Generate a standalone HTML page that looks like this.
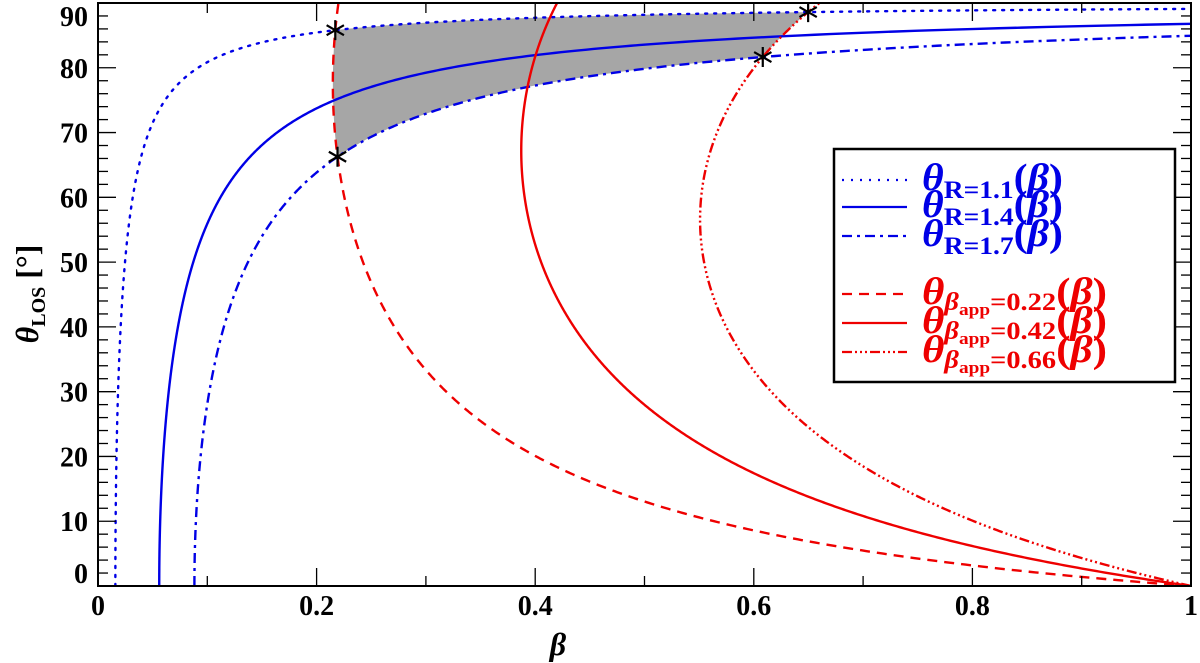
<!DOCTYPE html>
<html><head><meta charset="utf-8">
<style>
html,body{margin:0;padding:0;background:#fff;}
svg{display:block;}
text{font-family:"Liberation Serif",serif;font-weight:bold;}
</style></head>
<body>
<svg id="chart" xmlns="http://www.w3.org/2000/svg" width="1200" height="663" viewBox="0 0 1200 663">
  <defs>
    <clipPath id="plotClip"><rect x="98" y="3" width="1093" height="583"/></clipPath>
    <mask id="regionMask" maskUnits="userSpaceOnUse" x="0" y="0" width="1200" height="663">
      <path id="maskIn" fill="#fff"/>
      <path id="maskOut" fill="#000"/>
    </mask>
  </defs>
  <g id="plot" clip-path="url(#plotClip)"></g>
  <g id="axes"></g>
  <text x="558" y="655" font-size="32" font-style="italic" text-anchor="middle">β</text>
  <text transform="translate(38,294) rotate(-90)" font-size="32" text-anchor="middle"><tspan font-style="italic">θ</tspan><tspan font-size="20" dy="7">LOS</tspan><tspan dy="-7"> [°]</tspan></text>
  <g id="legend"></g>
</svg>
<script>
// ---- data ----
const ratioValues = [1.1, 1.4, 1.7];          // jet/counter-jet ratio R
const ratioDash = ["2,7", "", "10,5,3,5"];
const betaAppValues = [0.22, 0.42, 0.66];     // apparent speeds
const betaAppDash = ["10,7", "", "10,3,2,3,2,3,2,3"];
const xTicks = [0, 0.2, 0.4, 0.6, 0.8, 1];
const xTickLabels = ["0", "0.2", "0.4", "0.6", "0.8", "1"];
const yTicks = [0, 10, 20, 30, 40, 50, 60, 70, 80, 90];
const yTickLabels = ["0", "10", "20", "30", "40", "50", "60", "70", "80", "90"];
const regionRatio = [1.1, 1.7];
const regionBetaApp = [0.22, 0.66];
const spectralExp = 3;

const NS = "http://www.w3.org/2000/svg";
const X0 = 98, X1 = 1191, Y0 = 586, Y1 = 3;
const xs = b => X0 + b * (X1 - X0);
const ys = t => Y0 - t / 90 * (Y0 - Y1);
const rad = Math.PI / 180;
const cR = R => { const q = Math.pow(R, 1 / spectralExp); return (q - 1) / (q + 1); };

function ratioPts(R) {
  const c = cR(R), pts = [];
  for (let t = 0; t < 90; t += 0.1) {
    const b = c / Math.cos(t * rad);
    if (b > 1) { pts.push([1, Math.acos(c) / rad]); break; }
    pts.push([b, t]);
  }
  return pts;
}
function appPts(ba) {
  const pts = [];
  for (let t = 0; t <= 92; t += 0.1) {
    pts.push([ba / (Math.sin(t * rad) + ba * Math.cos(t * rad)), t]);
  }
  return pts;
}
const toD = pts => pts.map((p, i) => (i ? "L" : "M") + xs(p[0]).toFixed(2) + "," + ys(p[1]).toFixed(2)).join("");
function mk(tag, attrs, parent) {
  const e = document.createElementNS(NS, tag);
  for (const k in attrs) e.setAttribute(k, attrs[k]);
  parent.appendChild(e);
  return e;
}
const plot = document.getElementById("plot");
const axes = document.getElementById("axes");
const legend = document.getElementById("legend");

// shaded region
const inPts = appPts(regionBetaApp[0]);
document.getElementById("maskIn").setAttribute("d", toD(inPts) + "L" + xs(1.2) + "," + ys(95) + "L" + xs(1.2) + "," + ys(0) + "Z");
const outPts = appPts(regionBetaApp[1]);
document.getElementById("maskOut").setAttribute("d", toD(outPts) + "L" + xs(1.2) + "," + ys(95) + "L" + xs(1.2) + "," + ys(0) + "Z");
const rA = ratioPts(regionRatio[0]), rB = ratioPts(regionRatio[1]).slice().reverse();
const region = mk("path", { d: toD(rA.concat(rB)) + "Z", fill: "#a6a6a6", mask: "url(#regionMask)" }, plot);



// blue curves
ratioValues.forEach((R, i) => {
  const p = mk("path", { d: toD(ratioPts(R)), fill: "none", stroke: "#0000e6", "stroke-width": 2.4, "stroke-dasharray": ratioDash[i] || "none", "stroke-linecap": i === 0 ? "round" : "butt" }, plot);
  
  
});
// red curves
betaAppValues.forEach((ba, i) => {
  const p = mk("path", { d: toD(appPts(ba)), fill: "none", stroke: "#ee0000", "stroke-width": 2.4, "stroke-dasharray": betaAppDash[i] || "none" }, plot);
  
  
});
// intersection stars
regionRatio.forEach(R => regionBetaApp.forEach(ba => {
  const c = cR(R);
  const b = Math.sqrt(ba * ba * (1 - c) * (1 - c) + c * c);
  const t = Math.acos(Math.min(1, c / b)) / rad;
  const cx = xs(b), cy = ys(t), r = 10;
  let d = "";
  for (let k = 0; k < 3; k++) {
    const a = (90 + k * 60) * rad;
    d += "M" + (cx - r * Math.cos(a)) + "," + (cy - r * Math.sin(a)) + "L" + (cx + r * Math.cos(a)) + "," + (cy + r * Math.sin(a));
  }
  const s = mk("path", { d: d, stroke: "#000", "stroke-width": 2.2, fill: "none" }, axes);
  
  
}));

// frame
const frame = mk("rect", { x: X0, y: Y1, width: X1 - X0, height: Y0 - Y1, fill: "none", stroke: "#000", "stroke-width": 2 }, axes);


// x ticks
for (let v = 0; v <= 1.0001; v += 0.1) {
  const major = Math.abs(v * 5 - Math.round(v * 5)) < 1e-6;
  const L = major ? 18 : 10;
  mk("line", { x1: xs(v), x2: xs(v), y1: Y0, y2: Y0 - L, stroke: "#000", "stroke-width": 1.3 }, axes);
  mk("line", { x1: xs(v), x2: xs(v), y1: Y1, y2: Y1 + L, stroke: "#000", "stroke-width": 1.3 }, axes);
}
xTicks.forEach((v, i) => {
  const t = mk("text", { x: xs(v), y: 615, "font-size": 28, "text-anchor": "middle" }, axes);
  t.textContent = xTickLabels[i];
  
  
});
// y ticks
for (let v = 0; v <= 90; v += 2) {
  const L = v % 10 === 0 ? 18 : 10;
  mk("line", { x1: X0, x2: X0 + L, y1: ys(v), y2: ys(v), stroke: "#000", "stroke-width": 1.3 }, axes);
  mk("line", { x1: X1, x2: X1 - L, y1: ys(v), y2: ys(v), stroke: "#000", "stroke-width": 1.3 }, axes);
}
yTicks.forEach((v, i) => {
  let y = ys(v);
  y = Math.max(16, Math.min(573, y));
  const t = mk("text", { x: 88, y: y + 10, "font-size": 28, "text-anchor": "end" }, axes);
  t.textContent = yTickLabels[i];
  
  
});

// legend
const box = mk("rect", { x: 834, y: 149, width: 341, height: 233, fill: "#fff", stroke: "#000", "stroke-width": 2.5 }, legend);


const legY = [180, 207, 236, 294, 323, 352];
ratioValues.forEach((R, i) => {
  const y = legY[i];
  const ln = mk("line", { x1: 842, x2: 907, y1: y, y2: y, stroke: "#0000e6", "stroke-width": 2.2, "stroke-dasharray": ratioDash[i] || "none" }, legend);
  
  
  const t = mk("text", { x: 922, y: y + 10, "font-size": 38, fill: "#0000e6", textLength: 141, lengthAdjust: "spacingAndGlyphs" }, legend);
  t.innerHTML = '<tspan font-style="italic">θ</tspan><tspan font-size="25" dy="8">R=' + R + '</tspan><tspan dy="-8">(</tspan><tspan font-style="italic">β</tspan><tspan>)</tspan>';
  
  
});
betaAppValues.forEach((ba, i) => {
  const y = legY[i + 3];
  const ln = mk("line", { x1: 842, x2: 907, y1: y, y2: y, stroke: "#ee0000", "stroke-width": 2.2, "stroke-dasharray": betaAppDash[i] || "none" }, legend);
  
  
  const t = mk("text", { x: 922, y: y + 10, "font-size": 38, fill: "#ee0000", textLength: 185, lengthAdjust: "spacingAndGlyphs" }, legend);
  t.innerHTML = '<tspan font-style="italic">θ</tspan><tspan font-size="25" font-style="italic" dy="6">β</tspan><tspan font-size="17" dy="5">app</tspan><tspan font-size="25" dy="-5">=' + ba.toFixed(2) + '</tspan><tspan dy="-6">(</tspan><tspan font-style="italic">β</tspan><tspan>)</tspan>';
  
  
});
</script>
</body></html>
